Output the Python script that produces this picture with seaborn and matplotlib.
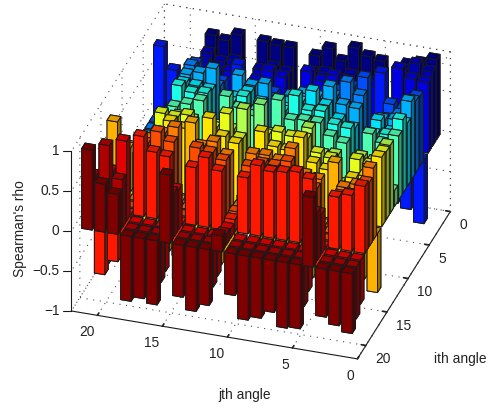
import numpy as np
import matplotlib
matplotlib.use('Agg')
import matplotlib.pyplot as plt
from matplotlib.colors import LinearSegmentedColormap
from matplotlib.lines import Line2D
from mpl_toolkits.mplot3d import proj3d
import seaborn as sns

# Spearman's rho between angle i and angle j
rho_01 = [1.0, .93, .88, -.8, .87, .9, .98, .79, .92, .8, .2, .85, .85, .87, -.74, .9, .8, .84, -.55, -.65, -.75]
rho_02 = [.93, 1.0, .9, -.65, .68, .7, .72, .65, .7, .68, .1, .62, .66, .6, -.6, .66, .62, .7, -.45, -.55, -.68]
rho_03 = [.88, .9, 1.0, -.6, .72, .62, .7, .77, .68, .77, .12, .65, .7, .55, -.55, .6, .58, .65, -.4, -.5, -.6]
rho_04 = [-.8, -.65, -.6, 1.0, -.7, -.72, -.78, -.65, -.72, -.55, .15, -.62, -.7, -.62, .8, -.72, -.68, -.7, .5, .6, .87]
rho_05 = [.87, .68, .72, -.7, 1.0, .86, .78, .62, .7, .6, .18, .62, .66, .6, -.68, .65, .62, .82, -.5, -.6, -.8]
rho_06 = [.9, .7, .62, -.72, .86, 1.0, .8, .7, .72, .66, .15, .6, .7, .66, -.7, .68, .64, .88, -.52, -.6, -.82]
rho_07 = [.98, .72, .7, -.78, .78, .8, 1.0, .85, .86, .8, .22, .9, .85, .95, -.75, .98, .9, .85, -.55, -.65, -.65]
rho_08 = [.79, .65, .77, -.65, .62, .7, .85, 1.0, .84, .8, .15, .75, .85, .76, -.62, .8, .82, .83, -.5, -.55, -.75]
rho_09 = [.92, .7, .68, -.72, .7, .72, .86, .84, 1.0, .78, .18, .72, .88, .78, -.7, .84, .82, .88, -.55, -.6, -.8]
rho_10 = [.8, .68, .77, -.55, .6, .66, .8, .8, .78, 1.0, .12, .75, .82, .94, -.5, .83, .76, .7, -.4, -.48, -.52]
rho_11 = [.2, .1, .12, .15, .18, .15, .22, .15, .18, .12, 1.0, .2, .15, .1, .18, .14, .16, .15, .12, .14, .2]
rho_12 = [.85, .62, .65, -.62, .62, .6, .9, .75, .72, .75, .2, 1.0, .72, .74, -.65, .76, .78, .73, -.5, -.55, -.7]
rho_13 = [.85, .66, .7, -.7, .66, .7, .85, .85, .88, .82, .15, .72, 1.0, .8, -.72, .9, .85, .87, -.55, -.62, -.8]
rho_14 = [.87, .6, .55, -.62, .6, .66, .95, .76, .78, .94, .1, .74, .8, 1.0, -.6, .82, .88, .72, -.48, -.55, -.65]
rho_15 = [-.74, -.6, -.55, .8, -.68, -.7, -.75, -.62, -.7, -.5, .18, -.65, -.72, -.6, 1.0, -.7, -.66, -.72, .5, .55, .85]
rho_16 = [.9, .66, .6, -.72, .65, .68, .98, .8, .84, .83, .14, .76, .9, .82, -.7, 1.0, .9, .8, -.55, -.6, -.8]
rho_17 = [.8, .62, .58, -.68, .62, .64, .9, .82, .82, .76, .16, .78, .85, .88, -.66, .9, 1.0, .83, -.5, -.58, -.75]
rho_18 = [.84, .7, .65, -.7, .82, .88, .85, .83, .88, .7, .15, .73, .87, .72, -.72, .8, .83, 1.0, -.6, -.62, -.81]
rho_19 = [-.55, -.45, -.4, .5, -.5, -.52, -.55, -.5, -.55, -.4, .12, -.5, -.55, -.48, .5, -.55, -.5, -.6, 1.0, .6, .5]
rho_20 = [-.65, -.55, -.5, .6, -.6, -.6, -.65, -.55, -.6, -.48, .14, -.55, -.62, -.55, .55, -.6, -.58, -.62, .6, 1.0, .6]
rho_21 = [-.75, -.68, -.6, .87, -.8, -.82, -.65, -.75, -.8, -.52, .2, -.7, -.8, -.65, .85, -.8, -.75, -.81, .5, .6, 1.0]

rho = np.array([rho_01, rho_02, rho_03, rho_04, rho_05, rho_06, rho_07,
                rho_08, rho_09, rho_10, rho_11, rho_12, rho_13, rho_14,
                rho_15, rho_16, rho_17, rho_18, rho_19, rho_20, rho_21])

angle_ticks = [0, 5, 10, 15, 20]
rho_ticks = [-1, -0.5, 0, 0.5, 1]
rho_tick_labels = ['\u22121', '\u22120.5', '0', '0.5', '1']
bar_width = 0.8
font_size = 9.9

sns.set_theme(style='white')
plt.rcParams['font.family'] = ['Liberation Sans', 'DejaVu Sans']
plt.rcParams['grid.linestyle'] = (0, (1, 5))
plt.rcParams['grid.color'] = '0.3'
plt.rcParams['grid.linewidth'] = 0.8

# the old MATLAB jet, its reds are a bit purer than matplotlib's
jet = LinearSegmentedColormap.from_list('matlab_jet', [
    (0, (0, 0, .5)), (1 / 8, (0, 0, 1)), (3 / 8, (0, 1, 1)),
    (5 / 8, (1, 1, 0)), (7 / 8, (1, 0, 0)), (1, (.5, 0, 0))])

fig = plt.figure(figsize=(4.92, 4.08), dpi=100)
ax = fig.add_axes([0.019, 0.042, 1.0, 1.0], projection='3d')
ax.set_proj_type('ortho')
ax.view_init(elev=31, azim=108)
ax.set_box_aspect((1, 1, 0.62), zoom=1.105)
ax.computed_zorder = False

# back to front, so the tall bars cover what is behind them
n = rho.shape[0]
for i in range(1, n + 1):
    col = np.array(jet((i - 1) / (n - 1)))[:3]
    # faces: bottom, top, -y, +y, -x, +x
    faces = [col * 0.9, col * 0.88, col, col, col * 0.62, col * 0.62]
    for j in range(n, 0, -1):
        v = rho[i - 1, j - 1]
        ax.bar3d(j - bar_width / 2, i - bar_width / 2, min(0, v),
                 bar_width, bar_width, abs(v), color=faces, shade=False,
                 edgecolor='k', linewidth=0.7, zorder=10 + i * n - j)

ax.set_xlim(0, 22, view_margin=0)
ax.set_ylim(0, 22, view_margin=0)
ax.set_zlim(-1, 1, view_margin=0)
ax.set_xticks(angle_ticks)
ax.set_yticks(angle_ticks)
ax.set_zticks(rho_ticks)
ax.set_zticklabels([])

for axis in (ax.xaxis, ax.yaxis, ax.zaxis):
    axis.pane.set_facecolor((1, 1, 1, 0))
    axis.pane.set_edgecolor((1, 1, 1, 0))
    axis.line.set_color('k')
    axis.line.set_linewidth(0.8)
    axis._axinfo['tick']['inward_factor'] = 0
    axis._axinfo['tick']['outward_factor'] = 0.2
ax.tick_params(labelsize=font_size, colors='#222222', pad=-3)
ax.zaxis.line.set_color((1, 1, 1, 0))
ax.zaxis._axinfo['tick']['outward_factor'] = 0
for t in ax.get_xticklabels():
    t.set_ha('right')
for t in ax.get_yticklabels():
    t.set_ha('left')

# dotted box edges behind the bars
for xs, ys, zs in [([0, 0], [0, 22], [1, 1]), ([0, 22], [0, 0], [1, 1]),
                   ([0, 0], [0, 0], [-1, 1]), ([22, 22], [0, 0], [-1, 1]),
                   ([22, 22], [0, 22], [-1, -1]), ([0, 0], [0, 22], [-1, -1])]:
    ax.plot(xs, ys, zs, color='0.3', ls=(0, (1, 5)), lw=0.8, zorder=1)

fig.canvas.draw()

# matplotlib keeps the z axis on the right for this view, the reference has it on the left
to_fig = fig.transFigure.inverted()
def corner_point(z):
    px, py, _ = proj3d.proj_transform(22, 22, z, ax.get_proj())
    return ax.transData.transform((px, py))

bottom, top = corner_point(-1), corner_point(1)
fx, fy = to_fig.transform([bottom, top]).T
fig.add_artist(Line2D(fx, fy, color='k', lw=0.8))
for z, label in zip(rho_ticks, rho_tick_labels):
    x0, y0 = corner_point(z)
    (fx0, fy0), (fx1, fy1), (fx2, fy2) = to_fig.transform([(x0, y0), (x0 - 8, y0), (x0 - 12, y0)])
    fig.add_artist(Line2D([fx0, fx1], [fy0, fy1], color='k', lw=0.8))
    fig.text(fx2, fy2, label, ha='right', va='center', fontsize=font_size, color='#222222')

fig.text(0.041, 0.441, "Spearman's rho", rotation=90, ha='center', va='center', fontsize=font_size, color='#222222')
fig.text(0.498, 0.032, 'jth angle', ha='center', va='center', fontsize=font_size, color='#222222')
fig.text(0.935, 0.12, 'ith angle', ha='center', va='center', fontsize=font_size, color='#222222')

fig.savefig('out.png', dpi=100)
